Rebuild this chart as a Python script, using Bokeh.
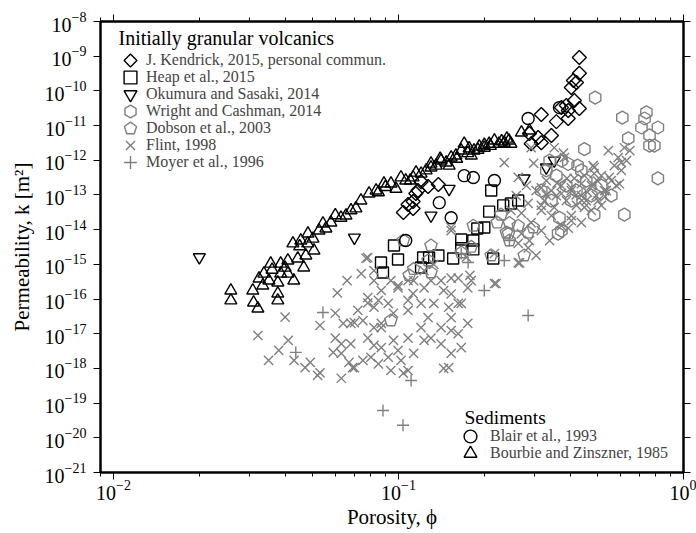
from bokeh.plotting import figure
from bokeh.models import (Range1d, FixedTicker, LogAxis, Legend, LegendItem,
                          CustomJSTickFormatter, Label)
from bokeh.embed import file_html
from bokeh.resources import INLINE

# ---------------- data (porosity, permeability m^2) ----------------
kendrick_phi = [0.431, 0.431, 0.411, 0.404, 0.421, 0.414, 0.431, 0.394, 0.394, 0.358,
                0.317, 0.373, 0.388, 0.288, 0.309, 0.344, 0.292, 0.317, 0.138, 0.127,
                0.117, 0.120, 0.1125, 0.108, 0.104, 0.1125, 0.115]
kendrick_k = [9.1e-10, 3.2e-10, 2.0e-10, 1.25e-10, 1.74e-10, 5.3e-11, 3.1e-11, 2.7e-11, 1.6e-11, 1.3e-11,
              2.1e-11, 3.3e-11, 3.8e-11, 5.9e-12, 4.5e-12, 5.2e-12, 3.0e-12, 3.2e-12, 2.0e-13, 1.75e-13,
              1.34e-13, 2.4e-13, 6.5e-14, 5.3e-14, 3.1e-14, 4.1e-14, 1.1e-13]

heap_phi = [0.2115, 0.208, 0.233, 0.248, 0.263, 0.200, 0.189, 0.166, 0.183, 0.166,
            0.183, 0.1555, 0.138, 0.128, 0.122, 0.0996, 0.0964, 0.0868, 0.0882, 0.215,
            0.120]
heap_k = [1.34e-13, 3.3e-14, 5.0e-14, 5.7e-14, 6.9e-14, 1.15e-14, 1.08e-14, 5.2e-15, 4.85e-15, 2.9e-15,
          2.7e-15, 1.47e-15, 1.8e-15, 1.57e-15, 1.57e-15, 1.38e-15, 3.5e-15, 1.13e-15, 5.8e-16, 1.47e-15,
          8.1e-16]

okumura_phi = [0.020, 0.070, 0.130, 0.1505, 0.276, 0.330, 0.352]
okumura_k = [1.6e-15, 5.9e-15, 2.55e-14, 1.5e-13, 3.0e-13, 6.2e-13, 9.8e-13]

wright_phi = [0.49, 0.61, 0.741, 0.73, 0.712, 0.813, 0.76, 0.64, 0.76, 0.79,
              0.449, 0.813, 0.373, 0.425, 0.394, 0.486, 0.62, 0.367, 0.373, 0.363,
              0.330, 0.358, 0.388, 0.421, 0.456, 0.515, 0.558, 0.475, 0.404, 0.344,
              0.317, 0.438, 0.339]
wright_k = [6.4e-11, 1.7e-11, 2.4e-11, 1.6e-11, 8.8e-12, 8.8e-12, 5.2e-12, 4.3e-12, 2.65e-12, 2.65e-12,
            2.1e-12, 3.0e-13, 9.8e-13, 7.0e-13, 7.8e-13, 2.7e-14, 2.7e-14, 2.2e-14, 9.4e-15, 7.7e-15,
            5.1e-13, 3.6e-13, 1.87e-13, 1.34e-13, 2.6e-13, 1.87e-13, 9.6e-14, 9.6e-14, 6.9e-14, 6.9e-14,
            1.34e-13, 5.1e-13, 9.8e-13]

dobson_phi = [0.222, 0.245, 0.263, 0.243, 0.245, 0.285, 0.297, 0.276, 0.183, 0.104,
              0.130, 0.127, 0.113, 0.109, 0.130, 0.166, 0.180, 0.2115, 0.239, 0.229,
              0.094]
dobson_k = [1.6e-14, 1.55e-14, 1.3e-14, 7.7e-15, 4.85e-15, 8.2e-15, 1.15e-14, 1.8e-15, 1.3e-14, 4.85e-15,
            3.5e-15, 1.29e-15, 7.3e-16, 4.8e-16, 5.8e-16, 2.2e-15, 3.2e-15, 1.8e-15, 8.2e-15, 2.7e-14,
            2.4e-17]

flint_phi = [0.040, 0.0321, 0.041, 0.038, 0.035, 0.043, 0.047, 0.049, 0.052, 0.053,
             0.059, 0.060, 0.053, 0.060, 0.064, 0.068, 0.069, 0.063, 0.067, 0.075,
             0.080, 0.078, 0.082, 0.075, 0.070, 0.061, 0.078, 0.085, 0.082,
             0.078, 0.087, 0.094, 0.108, 0.123, 0.141, 0.162, 0.180, 0.217, 0.266,
             0.068, 0.087, 0.096, 0.108, 0.120, 0.133, 0.150, 0.166, 0.175, 0.162,
             0.141, 0.123, 0.108, 0.096, 0.087, 0.092, 0.102, 0.108, 0.150, 0.130,
             0.063, 0.175, 0.153, 0.120, 0.153, 0.078, 0.153, 0.270, 0.285,
             0.217, 0.220, 0.263, 0.263, 0.288, 0.285, 0.317, 0.178, 0.153, 0.113,
             0.0996, 0.123, 0.133, 0.173, 0.077, 0.082, 0.153,
             0.235, 0.292, 0.298, 0.263, 0.325, 0.352, 0.382, 0.545, 0.590, 0.620,
             0.572, 0.515, 0.475, 0.438, 0.404, 0.373, 0.344, 0.330, 0.358, 0.388,
             0.421, 0.456, 0.494, 0.536, 0.558, 0.605, 0.515, 0.475, 0.404, 0.373,
             0.344, 0.317, 0.304, 0.281, 0.259, 0.248, 0.292, 0.317, 0.339, 0.270,
             0.449, 0.414, 0.482, 0.581, 0.648, 0.631, 0.438, 0.304, 0.379, 0.605,
             0.486, 0.486, 0.549, 0.596, 0.528, 0.502, 0.449, 0.404, 0.394, 0.352,
             0.317, 0.438, 0.373, 0.404,
             0.066, 0.074, 0.082, 0.0996, 0.1125, 0.130, 0.144, 0.108, 0.092, 0.082,
             0.072, 0.127, 0.141, 0.153, 0.166, 0.113, 0.0996, 0.085, 0.070, 0.094,
             0.104, 0.144, 0.063, 0.087, 0.162, 0.153,
             0.42, 0.46, 0.50, 0.36, 0.39, 0.44, 0.53, 0.33, 0.48]
flint_k = [3.0e-17, 8.9e-18, 6.4e-18, 3.3e-18, 1.7e-18, 1.7e-18, 1.05e-18, 1.5e-18, 6.3e-19, 7.5e-19,
           2.9e-18, 7.5e-18, 1.73e-17, 3.9e-17, 2.0e-17, 5.1e-18, 1.05e-18, 5.2e-19, 1.5e-18, 1.7e-18,
           2.1e-18, 7.5e-18, 1.5e-17, 2.4e-17, 2.1e-17, 1.5e-16, 7.7e-17, 9.1e-17, 4.6e-18,
           1.1e-16, 1.76e-16, 3.4e-16, 3.4e-16, 2.1e-16, 3.4e-16, 4.0e-16, 3.4e-16, 2.8e-16, 1.1e-15,
           2.0e-17, 1.5e-17, 3.9e-17, 4.7e-17, 7.5e-17, 7.5e-17, 5.8e-17, 7.5e-17, 2.0e-17, 1.0e-17,
           1.5e-17, 6.4e-18, 7.5e-18, 6.4e-18, 4.0e-18, 2.1e-18, 1.7e-18, 8.7e-19, 1.05e-18, 7.5e-18,
           5.1e-18, 2.1e-16, 1.4e-16, 1.5e-17, 2.9e-17, 1.57e-15, 9.4e-15, 7.7e-15, 3.0e-15,
           2.05e-15, 2.8e-16, 1.1e-15, 4.0e-15, 4.85e-15, 5.7e-14, 5.0e-14, 4.8e-16, 4.0e-16, 3.4e-16,
           2.45e-16, 6.6e-16, 1.0e-15, 1.6e-15, 1.5e-15, 6.6e-16, 1.15e-14,
           8.6e-13, 2.3e-12, 8.2e-13, 3.2e-13, 6.9e-14, 2.3e-12, 1.2e-12, 1.9e-12, 1.2e-12, 2.3e-12,
           7.0e-13, 3.6e-13, 1.87e-13, 9.6e-14, 1.34e-13, 1.87e-13, 1.34e-13, 2.6e-13, 9.6e-14, 6.9e-14,
           5.0e-14, 6.9e-14, 9.6e-14, 1.34e-13, 2.6e-13, 5.1e-13, 5.0e-14, 3.6e-14, 2.55e-14, 1.3e-14,
           2.55e-14, 3.6e-14, 1.34e-13, 1.87e-13, 9.6e-14, 3.6e-14, 1.6e-14, 9.4e-15, 4.85e-15, 3.0e-14,
           3.6e-13, 3.0e-13, 7.0e-13, 1.87e-13, 1.9e-12, 9.8e-13, 1.6e-14, 1.8e-15, 1.6e-12, 8.6e-13,
           6.2e-13, 4.1e-13, 3.2e-13, 2.1e-13, 1.34e-13, 6.9e-14, 4.4e-14, 1.83e-14, 1.1e-14, 4.4e-14,
           1.6e-13, 2.1e-13, 1.1e-13, 1.6e-13,
           3.4e-16, 5.4e-16, 3.4e-16, 2.1e-16, 1.44e-16, 3.4e-16, 1.76e-16, 9.1e-17, 7.5e-17, 5.8e-17,
           4.7e-17, 2.9e-17, 5.1e-18, 2.7e-18, 4.0e-18, 2.7e-18, 3.3e-18, 1.35e-18, 1.05e-18, 8.7e-19,
           7.3e-19, 1.0e-18, 2.7e-18, 2.0e-17, 7.5e-17, 1.24e-17,
           1.0e-13, 1.2e-13, 2.5e-13, 2.2e-13, 3.0e-13, 7.0e-14, 9.0e-14, 1.0e-13, 2.0e-13]

moyer_phi = [0.0882, 0.1037, 0.1107, 0.200, 0.285, 0.1755, 0.0543, 0.0436, 0.235, 0.166, 0.245]
moyer_k = [6.1e-20, 2.3e-20, 4.5e-19, 1.76e-16, 3.35e-17, 1.13e-15, 4.1e-17, 2.9e-18, 1.29e-15, 2.05e-15, 4.85e-15]

blair_phi = [0.285, 0.367, 0.170, 0.183, 0.217, 0.139, 0.153, 0.106]
blair_k = [1.6e-11, 3.3e-11, 3.6e-13, 3.2e-13, 2.6e-13, 6.0e-14, 2.2e-14, 4.85e-15]

bourbie_phi = [0.0258, 0.0258, 0.0308, 0.0310, 0.0321, 0.0377, 0.0377, 0.0324, 0.0337, 0.0356,
               0.0386, 0.0409, 0.0426, 0.0454, 0.0481, 0.0501, 0.0505, 0.0465, 0.0429, 0.0409,
               0.0386, 0.0377, 0.0543, 0.0579, 0.0628, 0.0681, 0.0709, 0.0654, 0.0526, 0.0556,
               0.0473, 0.0443, 0.0351, 0.0334, 0.0788, 0.0834, 0.0889, 0.0941, 0.102, 0.106,
               0.1125, 0.120, 0.125, 0.130, 0.1355, 0.141, 0.147, 0.153, 0.159, 0.166,
               0.170, 0.177, 0.184, 0.192, 0.200, 0.208, 0.217, 0.225, 0.235, 0.244,
               0.248, 0.270, 0.288, 0.0738, 0.098, 0.1152, 0.1505, 0.180, 0.13, 0.16,
               0.19, 0.21, 0.23, 0.14, 0.175, 0.2, 0.24, 0.11, 0.09, 0.085,
               0.06, 0.045, 0.048, 0.04, 0.036]
bourbie_k = [1.76e-16, 9.1e-17, 1.76e-16, 7.9e-17, 5.3e-17, 1.44e-16, 9.1e-17, 3.9e-16, 5.4e-16, 1.05e-15,
             1.05e-15, 1.29e-15, 4.0e-15, 4.85e-15, 7.7e-15, 5.5e-15, 2.5e-15, 8.1e-16, 3.4e-16, 5.4e-16,
             5.4e-16, 3.0e-16, 1.5e-14, 1.6e-14, 2.2e-14, 3.6e-14, 4.1e-14, 2.55e-14, 9.4e-15, 1.08e-14,
             1.8e-15, 1.47e-15, 3.4e-16, 2.45e-16, 1.1e-13, 1.34e-13, 2.13e-13, 2.13e-13, 3.2e-13, 2.6e-13,
             3.2e-13, 4.1e-13, 5.1e-13, 6.2e-13, 7.0e-13, 9.8e-13, 8.6e-13, 1.2e-12, 1.37e-12, 1.9e-12,
             3.0e-12, 2.2e-12, 1.9e-12, 2.5e-12, 2.3e-12, 3.0e-12, 3.7e-12, 3.0e-12, 3.2e-12, 3.7e-12,
             3.0e-12, 6.3e-12, 7.2e-12, 6.9e-14, 1.5e-13, 4.4e-13, 7.0e-13, 1.37e-12, 8e-13, 1.1e-12,
             2.0e-12, 2.6e-12, 3.5e-12, 1.1e-12, 1.6e-12, 2.8e-12, 4.2e-12, 2.6e-13, 1.7e-13, 1.2e-13,
             2.6e-14, 3.3e-15, 4e-15, 8e-16, 7e-16]

volcanic_labels = ["J. Kendrick, 2015, personal commun.", "Heap et al., 2015",
                   "Okumura and Sasaki, 2014", "Wright and Cashman, 2014",
                   "Dobson et al., 2003", "Flint, 1998", "Moyer et al., 1996"]
sediment_labels = ["Blair et al., 1993", "Bourbie and Zinszner, 1985"]

x_major = [1e-2, 1e-1, 1e0]
x_minor = [9e-3, 2e-2, 3e-2, 4e-2, 5e-2, 6e-2, 7e-2, 8e-2, 9e-2,
           0.2, 0.3, 0.4, 0.5, 0.6, 0.7, 0.8, 0.9]
y_major = [1e-21, 1e-20, 1e-19, 1e-18, 1e-17, 1e-16, 1e-15, 1e-14,
           1e-13, 1e-12, 1e-11, 1e-10, 1e-9, 1e-8]

# ---------------- figure ----------------
FONT = "Liberation Serif"
BLACK = "#000000"
GRAY = "#7f7f7f"

p = figure(width=696, height=533, x_axis_type="log", y_axis_type="log",
           x_range=Range1d(0.009, 1.0), y_range=Range1d(1e-21, 1e-8),
           output_backend="svg", toolbar_location=None,
           min_border_left=100, min_border_right=13, min_border_top=21, min_border_bottom=61)
p.xgrid.visible = False
p.ygrid.visible = False
p.outline_line_color = "black"
p.outline_line_width = 2
p.background_fill_color = "white"
p.border_fill_color = "white"

xt = FixedTicker(ticks=x_major, minor_ticks=x_minor)
yt = FixedTicker(ticks=y_major, minor_ticks=[])

def style_axis(ax, ticker):
    ax.ticker = ticker
    ax.axis_line_width = 2
    ax.axis_line_color = "black"
    ax.major_tick_out = 7
    ax.major_tick_in = 0
    ax.minor_tick_out = 4
    ax.minor_tick_in = 0
    ax.major_tick_line_width = 1
    ax.minor_tick_line_width = 1
    ax.major_label_text_font = FONT
    ax.major_label_text_font_size = "20px"
    ax.major_label_text_color = "black"
    ax.axis_label_text_font = FONT
    ax.axis_label_text_font_style = "normal"
    ax.axis_label_text_color = "black"

xa = p.xaxis[0]
ya = p.yaxis[0]
style_axis(xa, xt)
style_axis(ya, yt)
ya.minor_tick_line_color = None
xa.axis_label = "Porosity, ϕ"
xa.axis_label_text_font_size = "21px"
xa.axis_label_standoff = 2
xa.major_label_standoff = 0
ya.axis_label = "Permeability, k [m²]"
ya.axis_label_text_font_size = "21px"
ya.axis_label_standoff = 8
ya.major_label_standoff = 7

blank = CustomJSTickFormatter(code="return ''")
top = LogAxis(formatter=blank)
style_axis(top, xt)
top.major_label_standoff = 0
right = LogAxis(formatter=blank)
style_axis(right, yt)
right.minor_tick_line_color = None
right.major_label_standoff = 0
p.add_layout(top, "above")
p.add_layout(right, "right")

lw = 1.4
r_kend = p.ngon(kendrick_phi, kendrick_k, radius=7, radius_units="screen", n=4,
                fill_color=None, line_color=BLACK, line_width=lw)
r_heap = p.scatter(heap_phi, heap_k, marker="square", size=11,
                   fill_color=None, line_color=BLACK, line_width=lw)
r_oku = p.scatter(okumura_phi, okumura_k, marker="inverted_triangle", size=12,
                  fill_color=None, line_color=BLACK, line_width=lw)
r_wri = p.ngon(wright_phi, wright_k, radius=6.5, radius_units="screen", n=6,
               fill_color=None, line_color=GRAY, line_width=lw)
r_dob = p.ngon(dobson_phi, dobson_k, radius=6.5, radius_units="screen", n=5,
               fill_color=None, line_color=GRAY, line_width=lw)
r_fli = p.scatter(flint_phi, flint_k, marker="x", size=13,
                  fill_color=None, line_color=GRAY, line_width=lw)
r_moy = p.scatter(moyer_phi, moyer_k, marker="cross", size=12,
                  fill_color=None, line_color=GRAY, line_width=lw)
r_bla = p.scatter(blair_phi, blair_k, marker="circle", size=12,
                  fill_color=None, line_color=BLACK, line_width=lw)
r_bou = p.scatter(bourbie_phi, bourbie_k, marker="triangle", size=12,
                  fill_color=None, line_color=BLACK, line_width=lw)

# ---------------- legends (one entry each, stacked at a 17px pitch) ----------------
G = 32

def entry(label, renderer, x, y, standoff=0):
    lg = Legend(items=[LegendItem(label=label, renderers=[renderer])], location=(x, y))
    lg.label_text_font = FONT
    lg.label_text_font_size = "16px"
    lg.border_line_color = None
    lg.background_fill_color = None
    lg.background_fill_alpha = 0
    lg.glyph_width = G
    lg.glyph_height = G
    lg.label_height = G
    lg.spacing = 0
    lg.label_standoff = standoff
    lg.padding = 0
    lg.margin = 0
    p.add_layout(lg, "center")

volcanic_renderers = [r_kend, r_heap, r_oku, r_wri, r_dob, r_fli, r_moy]
for i, (lab, r) in enumerate(zip(volcanic_labels, volcanic_renderers)):
    entry(lab, r, 14, 396 - 17 * i)
for i, (lab, r) in enumerate(zip(sediment_labels, [r_bla, r_bou])):
    entry(lab, r, 354, 20 - 17 * i, standoff=4)

p.add_layout(Label(x=18, y=435, x_units="screen", y_units="screen",
                   text="Initially granular volcanics", text_font=FONT,
                   text_font_size="20px", text_baseline="middle", text_color="black"))
p.add_layout(Label(x=364, y=55, x_units="screen", y_units="screen",
                   text="Sediments", text_font=FONT,
                   text_font_size="19.5px", text_baseline="middle", text_color="black"))

open("out.html", "w").write(file_html(p, INLINE))
